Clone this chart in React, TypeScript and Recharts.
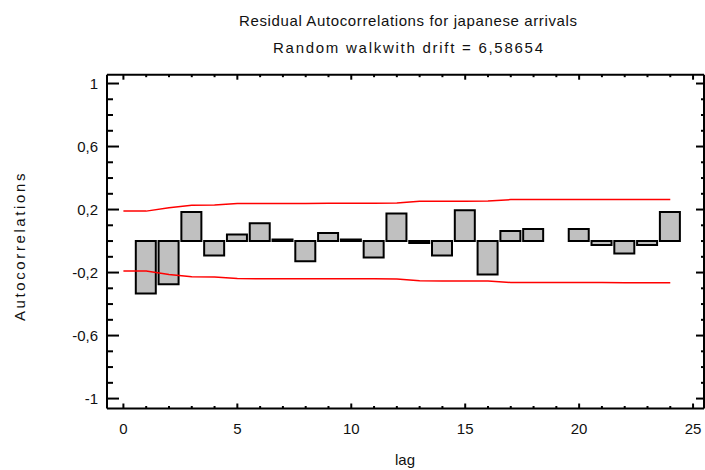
import React from 'react';
import { ComposedChart, Bar, Line, XAxis, YAxis } from 'recharts';

// Residual autocorrelation estimates by lag (lag 0 and 19 have no bar)
const lags = [0, 1, 2, 3, 4, 5, 6, 7, 8, 9, 10, 11, 12, 13, 14, 15, 16, 17, 18, 19, 20, 21, 22, 23, 24];
const acfValues = [
  null, -0.333, -0.274, 0.185, -0.092, 0.041, 0.113, 0.01, -0.128, 0.051, 0.01, -0.105, 0.175,
  -0.012, -0.092, 0.196, -0.213, 0.064, 0.077, null, 0.077, -0.025, -0.079, -0.025, 0.185,
];
// 95% probability limits
const upperLimits = [
  0.19, 0.19, 0.212, 0.227, 0.229, 0.238, 0.239, 0.239, 0.239, 0.24, 0.24, 0.24, 0.241,
  0.252, 0.253, 0.253, 0.254, 0.263, 0.263, 0.263, 0.263, 0.263, 0.264, 0.264, 0.264,
];
const lowerLimits = [
  -0.19, -0.19, -0.212, -0.227, -0.229, -0.238, -0.239, -0.239, -0.239, -0.24, -0.24, -0.24, -0.241,
  -0.252, -0.253, -0.253, -0.254, -0.263, -0.263, -0.263, -0.263, -0.263, -0.264, -0.264, -0.264,
];

const xTicks = [0, 1, 2, 3, 4, 5, 6, 7, 8, 9, 10, 11, 12, 13, 14, 15, 16, 17, 18, 19, 20, 21, 22, 23, 24, 25];
const xMajorTicks = [0, 5, 10, 15, 20, 25];
const yTicks = [-1, -0.9, -0.8, -0.7, -0.6, -0.5, -0.4, -0.3, -0.2, -0.1, 0, 0.1, 0.2, 0.3, 0.4, 0.5, 0.6, 0.7, 0.8, 0.9, 1];
const yMajorTicks = [-1, -0.6, -0.2, 0.2, 0.6, 1];
const yTickLabels = ['-1', '-0,6', '-0,2', '0,2', '0,6', '1'];

const titleText = 'Residual Autocorrelations for japanese arrivals';
const subtitleText = 'Random walkwith drift = 6,58654';
const xAxisTitle = 'lag';
const yAxisTitle = 'Autocorrelations';

const data = lags.map((lag, i) => ({
  lag,
  acf: acfValues[i],
  upper: upperLimits[i],
  lower: lowerLimits[i],
}));

const FONT = '"Liberation Sans", Arial, sans-serif';
const INK = '#000';

const isXMajor = (v: number) => xMajorTicks.includes(v);
const yMajorIndex = (v: number) => yMajorTicks.findIndex((m) => Math.abs(m - v) < 1e-6);

const BottomTick = (props: any) => {
  const { x, y, payload } = props;
  const major = isXMajor(payload.value);
  return (
    <g>
      <line x1={x} x2={x} y1={y} y2={y - (major ? 5 : 2.5)} stroke={INK} strokeWidth={2} />
      {major && (
        <text x={x} y={y + 25} textAnchor="middle" fontFamily={FONT} fontSize={15} fill="#111">
          {payload.value}
        </text>
      )}
    </g>
  );
};

const TopTick = (props: any) => {
  const { x, y, payload } = props;
  const major = isXMajor(payload.value);
  return <line x1={x} x2={x} y1={y} y2={y + (major ? 5 : 2.5)} stroke={INK} strokeWidth={2} />;
};

const LeftTick = (props: any) => {
  const { x, y, payload } = props;
  const idx = yMajorIndex(payload.value);
  const major = idx >= 0;
  return (
    <g>
      <line x1={x} x2={x + (major ? 12 : 6)} y1={y} y2={y} stroke={INK} strokeWidth={2} />
      {major && (
        <text x={x - 9} y={y + 5} textAnchor="end" fontFamily={FONT} fontSize={15} fill="#111">
          {yTickLabels[idx]}
        </text>
      )}
    </g>
  );
};

const RightTick = (props: any) => {
  const { x, y, payload } = props;
  const major = yMajorIndex(payload.value) >= 0;
  return <line x1={x} x2={x - (major ? 8 : 3)} y1={y} y2={y} stroke={INK} strokeWidth={2} />;
};

const Y_DOMAIN: [number, number] = [-1.063, 1.056];
const X_DOMAIN: [number, number] = [-0.72, 25.48];

export default function App() {
  return (
    <div style={{ position: 'absolute', left: 0, top: 0, width: 705, height: 470, background: '#fff' }}>
      <ComposedChart
        width={705}
        height={470}
        data={data}
        margin={{ top: 73.7, right: 0, bottom: 0, left: 0 }}
      >
        <XAxis
          xAxisId="bottom"
          dataKey="lag"
          type="number"
          domain={X_DOMAIN}
          allowDataOverflow
          ticks={xTicks}
          interval={0}
          height={61.5}
          tickSize={0}
          tickMargin={0}
          tickLine={false}
          axisLine={{ stroke: INK, strokeWidth: 2 }}
          tick={<BottomTick />}
        />
        <XAxis
          xAxisId="top"
          orientation="top"
          dataKey="lag"
          type="number"
          domain={X_DOMAIN}
          allowDataOverflow
          ticks={xTicks}
          interval={0}
          height={1}
          tickSize={0}
          tickMargin={0}
          tickLine={false}
          axisLine={{ stroke: INK, strokeWidth: 2 }}
          tick={<TopTick />}
        />
        <YAxis
          yAxisId="left"
          type="number"
          domain={Y_DOMAIN}
          allowDataOverflow
          ticks={yTicks}
          interval={0}
          width={107}
          tickSize={0}
          tickMargin={0}
          tickLine={false}
          axisLine={{ stroke: INK, strokeWidth: 2 }}
          tick={<LeftTick />}
        />
        <YAxis
          yAxisId="right"
          orientation="right"
          type="number"
          domain={Y_DOMAIN}
          allowDataOverflow
          ticks={yTicks}
          interval={0}
          width={1}
          tickSize={0}
          tickMargin={0}
          tickLine={false}
          axisLine={{ stroke: INK, strokeWidth: 2 }}
          tick={<RightTick />}
        />
        <Bar
          xAxisId="bottom"
          yAxisId="left"
          dataKey="acf"
          barSize={20}
          fill="#c0c0c0"
          stroke={INK}
          strokeWidth={2}
          isAnimationActive={false}
        />
        <Line
          xAxisId="top"
          yAxisId="right"
          dataKey="upper"
          type="linear"
          stroke="#ff0000"
          strokeWidth={1.5}
          dot={false}
          activeDot={false}
          isAnimationActive={false}
        />
        <Line
          xAxisId="bottom"
          yAxisId="left"
          dataKey="lower"
          type="linear"
          stroke="#ff0000"
          strokeWidth={1.5}
          dot={false}
          activeDot={false}
          isAnimationActive={false}
        />
      </ComposedChart>
      <svg
        width={705}
        height={470}
        style={{ position: 'absolute', left: 0, top: 0, pointerEvents: 'none' }}
      >
        <text x={408} y={26} textAnchor="middle" fontFamily={FONT} fontSize={15} fill="#111"
          textLength={338} lengthAdjust="spacing">
          {titleText}
        </text>
        <text x={408} y={53} textAnchor="middle" fontFamily={FONT} fontSize={15} fill="#111"
          textLength={270} lengthAdjust="spacing">
          {subtitleText}
        </text>
        <text x={405} y={465} textAnchor="middle" fontFamily={FONT} fontSize={15} fill="#111">
          {xAxisTitle}
        </text>
        <text
          x={0}
          y={0}
          transform="translate(25 246) rotate(-90)"
          textAnchor="middle"
          fontFamily={FONT}
          fontSize={15}
          letterSpacing={2.6}
          fill="#111"
        >
          {yAxisTitle}
        </text>
      </svg>
    </div>
  );
}
